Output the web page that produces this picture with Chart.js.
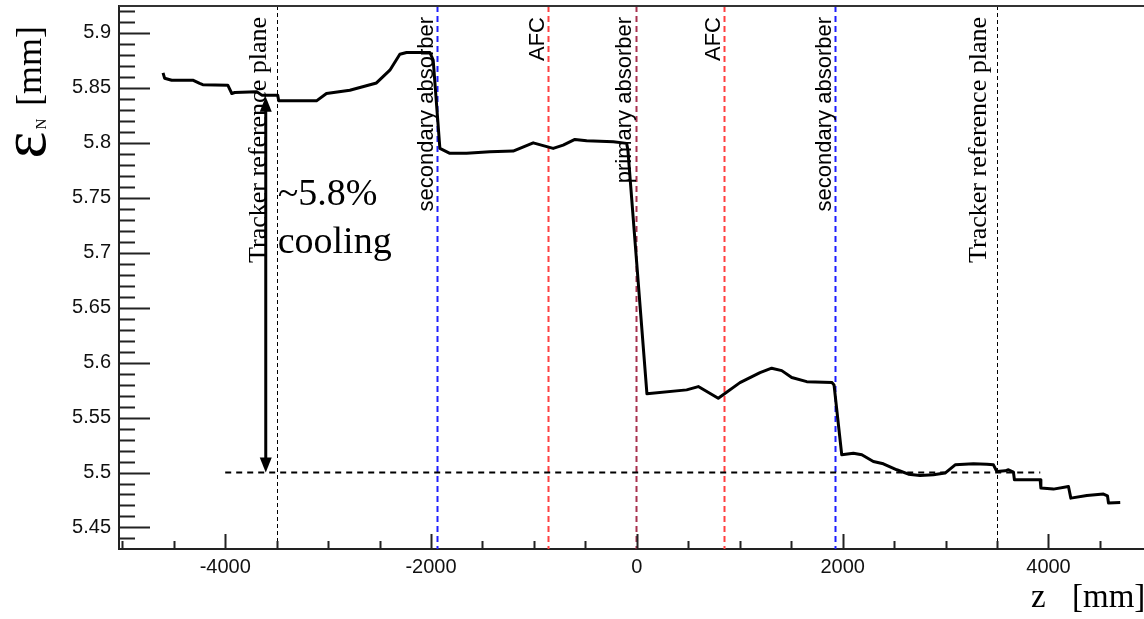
<!DOCTYPE html>
<html>
<head>
<meta charset="utf-8">
<script src="https://cdn.jsdelivr.net/npm/chart.js@4.4.1/dist/chart.umd.min.js"></script>
<style>
    html, body { margin: 0; padding: 0; background: #fff; overflow: hidden; }
    canvas { display: block; }
</style>
</head>
<body>
<canvas id="emittanceChart" width="1144" height="619"></canvas>
<script>
// emittance along the channel
const zPositions = [-4604, -4589, -4520, -4315, -4248, -4218, -3975, -3936, -3907, -3693,
    -3645, -3490, -3480, -3113, -3016, -2789, -2530, -2400, -2303, -2238,
    -2011, -1979, -1914, -1817, -1655, -1428, -1202, -1007, -813, -716,
    -602, -488, -229, -99, -87, 98, 484, 597, 791, 1002,
    1197, 1310, 1408, 1505, 1651, 1897, 1916, 1991, 2104, 2186,
    2298, 2395, 2526, 2639, 2752, 2882, 2995, 3093, 3271, 3401,
    3465, 3498, 3579, 3611, 3659, 3669, 3919, 3926, 4048, 4194,
    4217, 4373, 4534, 4573, 4583, 4697];
const emittance = [5.8636, 5.8588, 5.857, 5.857, 5.854, 5.8529, 5.8525, 5.8449, 5.8458, 5.8464,
    5.8434, 5.8434, 5.8382, 5.8382, 5.8449, 5.8479, 5.8545, 5.8661, 5.8806, 5.8822,
    5.8822, 5.8752, 5.7949, 5.7904, 5.7904, 5.7918, 5.7925, 5.8, 5.7949, 5.7979,
    5.8031, 5.8018, 5.8009, 5.7995, 5.7934, 5.5716, 5.5752, 5.5782, 5.5676, 5.5818,
    5.5909, 5.5949, 5.5927, 5.5864, 5.5827, 5.5818, 5.5797, 5.5161, 5.5176, 5.5161,
    5.51, 5.5079, 5.5025, 5.4985, 5.4973, 5.4979, 5.4995, 5.507, 5.5079, 5.5076,
    5.507, 5.5009, 5.5015, 5.5025, 5.5004, 5.4934, 5.4934, 5.4858, 5.4849, 5.4873,
    5.4767, 5.4791, 5.4804, 5.4788, 5.4722, 5.4727];

const xTickValues = [-4000, -2000, 0, 2000, 4000];
const yTickValues = [5.45, 5.5, 5.55, 5.6, 5.65, 5.7, 5.75, 5.8, 5.85, 5.9];

// element positions and their names
const markerPositions = [-3500, -1940, -860, -8, 850, 1925, 3500];
const markerLabels = ['Tracker reference plane', 'secondary absorber', 'AFC', 'primary absorber',
    'AFC', 'secondary absorber', 'Tracker reference plane'];

// cooling arrow and reference level
const referenceLevel = 5.5;
const referenceRange = [-4000, 3920];
const arrowZ = -3606;
const arrowTop = 5.842;
const coolingText = ['~5.8%', 'cooling'];

const serif = '"Liberation Serif", "Times New Roman", serif';
const sans = '"Liberation Sans", Arial, sans-serif';

const trackerStyle = { color: '#000', width: 1, dash: [4, 3], font: '26px ' + serif, shift: -11 };
const secondaryStyle = { color: '#1e1eff', width: 2, dash: [6, 4], font: '22px ' + sans, shift: -4 };
const afcStyle = { color: '#ff4040', width: 2, dash: [6, 4], font: '22px ' + sans, shift: -4 };
const primaryStyle = { color: '#a8304f', width: 2, dash: [6, 4], font: '22px ' + sans, shift: -5 };
const markerStyles = [trackerStyle, secondaryStyle, afcStyle, primaryStyle, afcStyle, secondaryStyle, trackerStyle];

Chart.defaults.font.family = sans;

function rotatedText(ctx, text, x, y, font, align) {
    ctx.save();
    ctx.translate(x, y);
    ctx.rotate(-Math.PI / 2);
    ctx.font = font;
    ctx.textAlign = align;
    ctx.textBaseline = 'alphabetic';
    ctx.fillText(text, 0, 0);
    ctx.restore();
}

const overlayPlugin = {
    id: 'overlay',
    beforeDatasetsDraw(chart) {
        const { ctx, chartArea: a, scales: { x, y } } = chart;
        ctx.save();
        ctx.beginPath();
        ctx.rect(a.left, a.top, a.right - a.left, a.bottom - a.top);
        ctx.clip();

        markerPositions.forEach((z, i) => {
            const st = markerStyles[i];
            const px = Math.round(x.getPixelForValue(z)) + 0.5;
            ctx.strokeStyle = st.color;
            ctx.lineWidth = st.width;
            ctx.setLineDash(st.dash);
            ctx.beginPath();
            ctx.moveTo(px, a.top);
            ctx.lineTo(px, a.bottom);
            ctx.stroke();
        });
        ctx.setLineDash([]);

        ctx.fillStyle = '#000';
        markerLabels.forEach((text, i) => {
            const st = markerStyles[i];
            const px = x.getPixelForValue(markerPositions[i]);
            rotatedText(ctx, text, px + st.shift, a.top + 11, st.font, 'right');
        });

        // reference level
        const ry = y.getPixelForValue(referenceLevel);
        ctx.strokeStyle = '#000';
        ctx.lineWidth = 2;
        ctx.setLineDash([6, 5]);
        ctx.beginPath();
        ctx.moveTo(x.getPixelForValue(referenceRange[0]), ry);
        ctx.lineTo(x.getPixelForValue(referenceRange[1]), ry);
        ctx.stroke();
        ctx.setLineDash([]);
        ctx.restore();
    },
    afterDatasetsDraw(chart) {
        const { ctx, chartArea: a, scales: { x, y } } = chart;
        ctx.save();

        // double arrow
        const ax = x.getPixelForValue(arrowZ);
        const top = y.getPixelForValue(arrowTop);
        const bot = y.getPixelForValue(referenceLevel);
        ctx.strokeStyle = '#000';
        ctx.fillStyle = '#000';
        ctx.lineWidth = 3;
        ctx.beginPath();
        ctx.moveTo(ax, top + 10);
        ctx.lineTo(ax, bot - 10);
        ctx.stroke();
        ctx.beginPath();
        ctx.moveTo(ax, top);
        ctx.lineTo(ax - 6, top + 15);
        ctx.lineTo(ax + 6, top + 15);
        ctx.closePath();
        ctx.fill();
        ctx.beginPath();
        ctx.moveTo(ax, bot);
        ctx.lineTo(ax - 6, bot - 15);
        ctx.lineTo(ax + 6, bot - 15);
        ctx.closePath();
        ctx.fill();

        // cooling note
        const tx = x.getPixelForValue(markerPositions[0]) + 1;
        ctx.font = '38px ' + serif;
        ctx.textAlign = 'left';
        ctx.textBaseline = 'alphabetic';
        ctx.fillText(coolingText[0], tx, y.getPixelForValue(5.7434));
        ctx.fillText(coolingText[1], tx, y.getPixelForValue(5.6997));

        // inner ticks, ROOT style
        ctx.strokeStyle = '#222';
        ctx.lineWidth = 2;
        ctx.beginPath();
        for (let k = 544; k <= 592; k++) {
            const py = Math.round(y.getPixelForValue(k / 100)) + 0.5;
            const len = k % 5 === 0 ? 31 : 16;
            ctx.moveTo(a.left, py);
            ctx.lineTo(a.left + len, py);
        }
        for (let v = -5000; v <= 5000; v += 500) {
            const px = Math.round(x.getPixelForValue(v)) + 0.5;
            if (px < a.left + 3 || px > a.right) continue;
            const len = v % 2000 === 0 ? 15 : 8;
            ctx.moveTo(px, a.bottom);
            ctx.lineTo(px, a.bottom - len);
        }
        ctx.stroke();

        // top frame line
        ctx.strokeStyle = '#333';
        ctx.beginPath();
        ctx.moveTo(a.left, a.top);
        ctx.lineTo(a.right, a.top);
        ctx.stroke();

        // axis titles
        ctx.fillStyle = '#000';
        rotatedText(ctx, '\u03B5', 45, 145, '64px ' + serif, 'center');
        rotatedText(ctx, 'N', 46, 124, '15px ' + serif, 'center');
        rotatedText(ctx, '[mm]', 41, 66, '36px ' + serif, 'center');

        ctx.font = '33px ' + serif;
        ctx.textAlign = 'left';
        ctx.textBaseline = 'alphabetic';
        ctx.fillText('z', 1031, 607);
        ctx.fillText('[mm]', 1072, 607);
        ctx.restore();
    }
};

const chart = new Chart(document.getElementById('emittanceChart'), {
    type: 'scatter',
    data: {
        datasets: [{
            data: zPositions.map((z, i) => ({ x: z, y: emittance[i] })),
            showLine: true,
            borderColor: '#000',
            borderWidth: 3,
            borderJoinStyle: 'round',
            pointRadius: 0,
            tension: 0
        }]
    },
    options: {
        responsive: false,
        animation: false,
        layout: { padding: { top: 6, right: 0, bottom: 0, left: 0 } },
        plugins: { legend: { display: false }, tooltip: { enabled: false } },
        scales: {
            x: {
                type: 'linear',
                min: -5032,
                max: 4928,
                afterBuildTicks: s => { s.ticks = xTickValues.map(v => ({ value: v })); },
                afterFit: s => {
                    s.height = 70;
                    s.paddingLeft = 0; s.paddingRight = 0;
                },
                grid: { display: false, drawTicks: false },
                border: { display: true, color: '#222', width: 2 },
                ticks: {
                    padding: 6,
                    autoSkip: false,
                    maxRotation: 0,
                    color: '#111',
                    font: { size: 20 },
                    callback: v => String(v)
                }
            },
            y: {
                min: 5.4304,
                max: 5.9245,
                afterBuildTicks: s => { s.ticks = yTickValues.map(v => ({ value: v })); },
                afterFit: s => {
                    s.width = 119;
                    s.paddingTop = 0; s.paddingBottom = 0;
                },
                grid: { display: false, drawTicks: false },
                border: { display: true, color: '#222', width: 2 },
                ticks: {
                    padding: 8,
                    autoSkip: false,
                    color: '#111',
                    font: { size: 20 },
                    callback: v => String(v)
                }
            }
        }
    },
    plugins: [overlayPlugin]
});
</script>
</body>
</html>
